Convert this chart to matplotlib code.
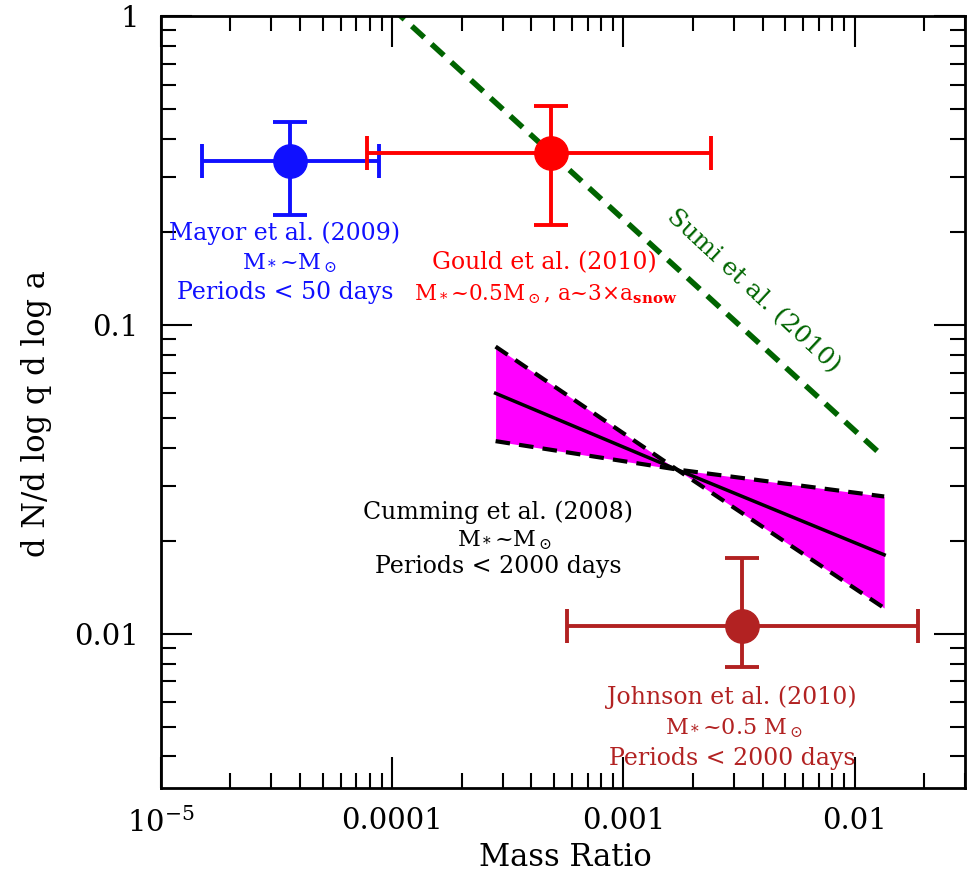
import matplotlib
matplotlib.use('Agg')
import matplotlib.pyplot as plt
from matplotlib.ticker import LogLocator, FixedLocator, FixedFormatter, NullFormatter

plt.rcParams['font.family'] = ['DejaVu Serif']
plt.rcParams['mathtext.fontset'] = 'dejavuserif'

# measured points (mass ratio q, dN/dlogq dloga) with error ranges
mayor_q, mayor_y = 3.6e-5, 0.34
mayor_q_range = [1.5e-5, 8.8e-5]
mayor_y_range = [0.227, 0.454]

gould_q, gould_y = 4.85e-4, 0.36
gould_q_range = [7.8e-5, 2.4e-3]
gould_y_range = [0.21, 0.51]

johnson_q, johnson_y = 3.25e-3, 0.0106
johnson_q_range = [5.7e-4, 1.88e-2]
johnson_y_range = [0.0078, 0.0176]

# Sumi et al. power law
sumi_q = [1.0e-4, 1.33e-2]
sumi_y = [1.06, 0.0374]

# Cumming et al. band (left end, pivot, right end)
cumming_q = [2.8e-4, 1.7e-3, 1.34e-2]
cumming_mid = [0.060, 0.034, 0.018]
cumming_steep = [0.085, 0.034, 0.0121]
cumming_flat = [0.042, 0.034, 0.0278]

fig = plt.figure(figsize=(9.69, 8.74), dpi=100)
ax = fig.add_axes([0.166, 0.0984, 0.830, 0.8833])
ax.set_xscale('log')
ax.set_yscale('log')
ax.set_xlim(1e-5, 0.03)
ax.set_ylim(10**-2.5, 1)

# Cumming band
ax.fill_between(cumming_q, cumming_steep, cumming_flat, color='#ff00ff', lw=0, zorder=1)
ax.plot(cumming_q, cumming_mid, color='black', lw=2.5, zorder=2)
ax.plot(cumming_q, cumming_steep, color='black', lw=3, ls=(0, (3.5, 2.2)), zorder=2)
ax.plot(cumming_q, cumming_flat, color='black', lw=3, ls=(0, (3.5, 2.2)), zorder=2)

# Sumi line
ax.plot(sumi_q, sumi_y, color='#006400', lw=4, ls=(0, (3.0, 1.8)), zorder=2)

def point(q, y, qr, yr, col):
    ax.errorbar([q], [y], xerr=[[q - qr[0]], [qr[1] - q]], yerr=[[y - yr[0]], [yr[1] - y]],
                fmt='o', color=col, ms=24, elinewidth=2.8, capsize=12, capthick=2.8, zorder=3)

point(mayor_q, mayor_y, mayor_q_range, mayor_y_range, '#1010ff')
point(gould_q, gould_y, gould_q_range, gould_y_range, '#ff0000')
point(johnson_q, johnson_y, johnson_q_range, johnson_y_range, '#b22222')

fs = 17
fs2 = 16
# text labels in pixel positions of the figure
def label(x, y, s, col, size=fs, **kw):
    fig.text(x / 969, 1 - y / 874, s, color=col, fontsize=size, ha='center', va='center', **kw)

msun = r'M$_*$~M$_\odot$'
label(285, 233, 'Mayor et al. (2009)', '#1010ff')
label(290, 263, msun, '#1010ff', fs2)
label(285, 293, 'Periods < 50 days', '#1010ff')

label(544, 263, 'Gould et al. (2010)', '#ff0000')
label(546, 294, r'M$_*$~0.5M$_\odot$, a~3$\times$a$_{\mathbf{snow}}$', '#ff0000', 15.5)

label(498, 512, 'Cumming et al. (2008)', 'black')
label(505, 540, msun, 'black', fs2)
label(498, 566, 'Periods < 2000 days', 'black')

label(732, 697, 'Johnson et al. (2010)', '#b22222')
label(734, 728, r'M$_*$~0.5 M$_\odot$', '#b22222', fs2)
label(732, 758, 'Periods < 2000 days', '#b22222')

label(753, 291, 'Sumi et al. (2010)', '#006400', size=18, rotation=-43, rotation_mode='anchor')

# axes styling
for s in ax.spines.values():
    s.set_linewidth(2)
ax.tick_params(which='both', direction='in', top=True, right=True, width=1.5)
ax.tick_params(which='major', length=22, labelsize=21)
ax.tick_params(which='minor', length=11)
ax.tick_params(axis='x', pad=14)
ax.tick_params(axis='y', pad=16)

ax.xaxis.set_major_locator(FixedLocator([1e-5, 1e-4, 1e-3, 1e-2]))
ax.xaxis.set_major_formatter(FixedFormatter([r'10$^{-5}$', '0.0001', '0.001', '0.01']))
ax.xaxis.set_minor_locator(LogLocator(base=10, subs=range(2, 10)))
ax.xaxis.set_minor_formatter(NullFormatter())
ax.yaxis.set_major_locator(FixedLocator([0.01, 0.1, 1]))
ax.yaxis.set_major_formatter(FixedFormatter(['0.01', '0.1', '1']))
ax.yaxis.set_minor_locator(LogLocator(base=10, subs=range(2, 10)))
ax.yaxis.set_minor_formatter(NullFormatter())

fig.text(37 / 969, 1 - 414 / 874, 'd N/d log q d log a', rotation=90, fontsize=22,
         ha='center', va='center')
fig.text(565 / 969, 1 - 857 / 874, 'Mass Ratio', fontsize=22, ha='center', va='center')

plt.savefig('out.png', dpi=100)
